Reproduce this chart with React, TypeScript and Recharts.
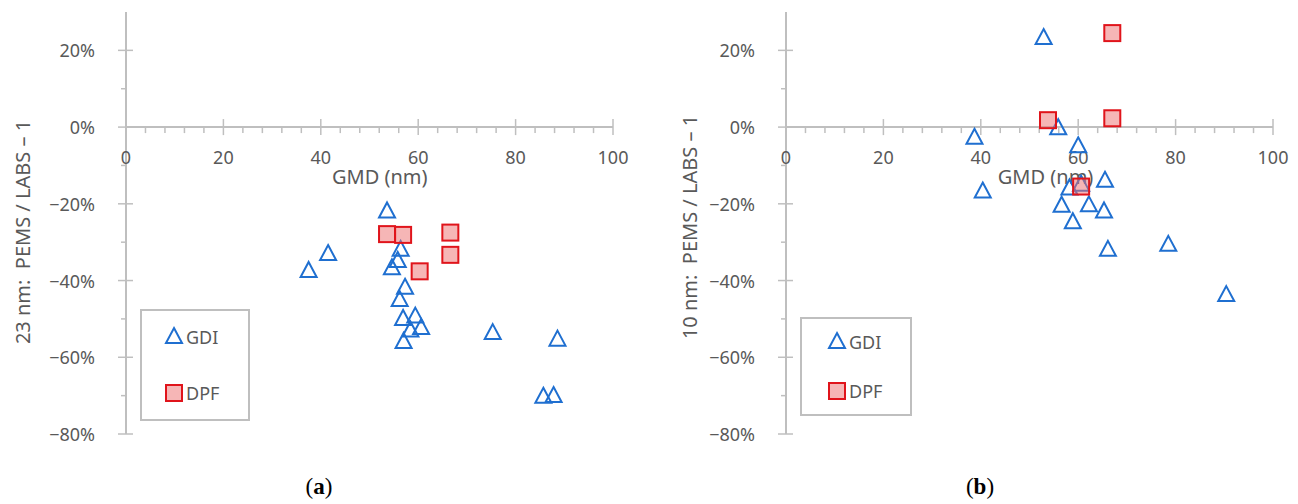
import { ScatterChart, Scatter, XAxis, YAxis, ReferenceLine, ReferenceDot, Legend, Label } from 'recharts';

// panel (a): 23 nm
const gmdGdiA = [37.5, 41.5, 53.6, 56.4, 55.8, 54.6, 57.3, 56.2, 56.9, 59.4, 58.4, 60.6, 57.0, 75.3, 88.6, 85.7, 87.8];
const errGdiA = [-37.5, -33.1, -22.0, -32.0, -34.9, -36.8, -41.9, -45.1, -50.0, -49.4, -53.0, -52.4, -56.0, -53.7, -55.4, -70.3, -70.1];
const gmdDpfA = [53.6, 56.9, 66.6, 66.6, 60.3];
const errDpfA = [-27.9, -28.1, -27.5, -33.3, -37.6];

// panel (b): 10 nm
const gmdGdiB = [52.9, 55.9, 38.7, 60.0, 40.4, 65.5, 58.2, 60.6, 56.6, 62.2, 65.3, 58.9, 66.1, 78.5, 90.4];
const errGdiB = [23.2, -0.3, -2.8, -5.0, -16.8, -14.0, -16.0, -15.0, -20.5, -20.4, -22.0, -24.8, -32.0, -30.7, -43.8];
const gmdDpfB = [67.0, 53.8, 67.0, 60.6];
const errDpfB = [24.5, 1.8, 2.3, -15.5];

const majorX = [0, 20, 40, 60, 80, 100];
const minorX = [4, 8, 12, 16, 24, 28, 32, 36, 44, 48, 52, 56, 64, 68, 72, 76, 84, 88, 92, 96];
const yTicks = [-80, -70, -60, -50, -40, -30, -20, -10, 0, 10, 20];
const yLabelled = [-80, -60, -40, -20, 0, 20];

const FONT = '"Noto Sans", sans-serif';
const GREY = '#595959';
const AXIS = '#bfbfbf';
const BLUE = '#1f6fd0';
const RED = '#e0141b';
const PINK = 'rgba(238,110,110,0.5)';

const toPoints = (xs: number[], ys: number[]) => xs.map((x, i) => ({ x, y: ys[i] }));

const fmtY = (v: number) => (v < 0 ? `\u2212${-v}%` : `${v}%`);

function Triangle({ cx, cy }: any) {
  return (
    <path
      d={`M${cx},${cy - 9} L${cx + 8},${cy + 6} L${cx - 8},${cy + 6} Z`}
      fill="none"
      stroke={BLUE}
      strokeWidth={2}
    />
  );
}

function Square({ cx, cy }: any) {
  return <rect x={cx - 8} y={cy - 8} width={16} height={16} fill={PINK} stroke={RED} strokeWidth={2} />;
}

function YTick({ x, y, payload }: any) {
  const v = payload.value;
  const major = yLabelled.includes(v);
  return (
    <g>
      <line x1={major ? x - 8 : x - 5} x2={major ? x + 7 : x} y1={y} y2={y} stroke={AXIS} strokeWidth={1.5} />
      {major && (
        <text x={x - 31} y={y} textAnchor="end" dominantBaseline="central" fill={GREY} fontSize={18} fontFamily={FONT}>
          {fmtY(v)}
        </text>
      )}
    </g>
  );
}

function MajorTick({ cx, cy, value }: any) {
  return (
    <g>
      <line x1={cx} x2={cx} y1={cy - 8} y2={cy + 8} stroke={AXIS} strokeWidth={1.5} />
      <text x={cx} y={cy + 30} textAnchor="middle" dominantBaseline="central" fill={GREY} fontSize={18} fontFamily={FONT}>
        {value}
      </text>
    </g>
  );
}

function MinorTick({ cx, cy }: any) {
  return <line x1={cx} x2={cx} y1={cy} y2={cy + 6} stroke={AXIS} strokeWidth={1.5} />;
}

function XTitle({ cx, cy }: any) {
  return (
    <text x={cx} y={cy + 49} textAnchor="middle" dominantBaseline="central" fill={GREY} fontSize={20} fontFamily={FONT}>
      GMD (nm)
    </text>
  );
}

function YTitle({ viewBox, value, dx, dy }: any) {
  const cx = viewBox.x + dx;
  const cy = viewBox.y + viewBox.height / 2 + dy;
  return (
    <text
      x={cx}
      y={cy}
      transform={`rotate(-90 ${cx} ${cy})`}
      textAnchor="middle"
      dominantBaseline="central"
      fill={GREY}
      fontSize={20}
      fontFamily={FONT}
      style={{ whiteSpace: 'pre' }}
    >
      {value}
    </text>
  );
}

function LegendBox({ w, h, ix, triY, sqY }: any) {
  return (
    <svg width={w} height={h} style={{ display: 'block' }}>
      <rect x={1} y={1} width={w - 2} height={h - 2} fill="#fff" stroke={AXIS} strokeWidth={2} />
      <Triangle cx={ix} cy={triY} />
      <text x={ix + 12} y={triY} dominantBaseline="central" fill={GREY} fontSize={18} fontFamily={FONT}>GDI</text>
      <Square cx={ix} cy={sqY} />
      <text x={ix + 12} y={sqY} dominantBaseline="central" fill={GREY} fontSize={18} fontFamily={FONT}>DPF</text>
    </svg>
  );
}

interface PanelProps {
  width: number;
  axisLeft: number;
  gdi: { x: number; y: number }[];
  dpf: { x: number; y: number }[];
  yTitle: string;
  titleDx: number;
  titleDy: number;
  xTitleAt: number;
  legend: { left: number; top: number; w: number; h: number; ix: number; triY: number; sqY: number };
}

function Panel({ width, axisLeft, gdi, dpf, yTitle, titleDx, titleDy, xTitleAt, legend }: PanelProps) {
  const yAxisWidth = 110;
  return (
    <ScatterChart
      width={width}
      height={470}
      margin={{ top: 12, bottom: 36, left: axisLeft - yAxisWidth, right: width - axisLeft - 487 }}
    >
      <XAxis type="number" dataKey="x" domain={[0, 100]} hide allowDataOverflow />
      <YAxis
        type="number"
        dataKey="y"
        domain={[-80, 30]}
        ticks={yTicks}
        interval={0}
        allowDataOverflow
        width={yAxisWidth}
        axisLine={{ stroke: AXIS, strokeWidth: 2 }}
        tickLine={false}
        tickSize={0}
        tickMargin={0}
        tick={(p: any) => <YTick {...p} />}
      >
        <Label content={(p: any) => <YTitle {...p} value={yTitle} dx={titleDx} dy={titleDy} />} />
      </YAxis>
      <ReferenceLine y={0} stroke={AXIS} strokeWidth={2} />
      {minorX.map((t) => (
        <ReferenceDot key={`m${t}`} x={t} y={0} r={0} ifOverflow="visible" shape={(p: any) => <MinorTick {...p} />} />
      ))}
      {majorX.map((t) => (
        <ReferenceDot key={`M${t}`} x={t} y={0} r={0} ifOverflow="visible" shape={(p: any) => <MajorTick {...p} value={t} />} />
      ))}
      <ReferenceDot x={xTitleAt} y={0} r={0} ifOverflow="visible" shape={(p: any) => <XTitle {...p} />} />
      <Legend
        layout="horizontal"
        verticalAlign="middle"
        align="center"
        wrapperStyle={{ left: legend.left, top: legend.top, width: legend.w, height: legend.h }}
        content={() => <LegendBox {...legend} />}
      />
      <Scatter name="GDI" data={gdi} shape={(p: any) => <Triangle {...p} />} isAnimationActive={false} />
      <Scatter name="DPF" data={dpf} shape={(p: any) => <Square {...p} />} isAnimationActive={false} />
    </ScatterChart>
  );
}

const captionStyle: React.CSSProperties = {
  position: 'absolute',
  top: 474,
  fontFamily: '"Liberation Serif", serif',
  fontSize: 23,
  color: '#000',
  transform: 'translateX(-50%)',
};

export default function App() {
  return (
    <div style={{ position: 'absolute', left: 0, top: 0, width: 1298, height: 504, background: '#fff' }}>
      <div style={{ position: 'absolute', left: 0, top: 0 }}>
        <Panel
          width={650}
          axisLeft={126}
          gdi={toPoints(gmdGdiA, errGdiA)}
          dpf={toPoints(gmdDpfA, errDpfA)}
          yTitle="23 nm:  PEMS / LABS – 1"
          titleDx={6}
          titleDy={9}
          xTitleAt={52.1}
          legend={{ left: 140, top: 309, w: 110, h: 112, ix: 34, triY: 28, sqY: 84 }}
        />
      </div>
      <div style={{ position: 'absolute', left: 650, top: 0 }}>
        <Panel
          width={648}
          axisLeft={136}
          gdi={toPoints(gmdGdiB, errGdiB)}
          dpf={toPoints(gmdDpfB, errDpfB)}
          yTitle="10 nm:  PEMS / LABS – 1"
          titleDx={13}
          titleDy={4}
          xTitleAt={53.3}
          legend={{ left: 150, top: 317, w: 112, h: 99, ix: 37, triY: 25, sqY: 74 }}
        />
      </div>
      <div style={{ ...captionStyle, left: 319 }}>
        (<b>a</b>)
      </div>
      <div style={{ ...captionStyle, left: 980 }}>
        (<b>b</b>)
      </div>
    </div>
  );
}
